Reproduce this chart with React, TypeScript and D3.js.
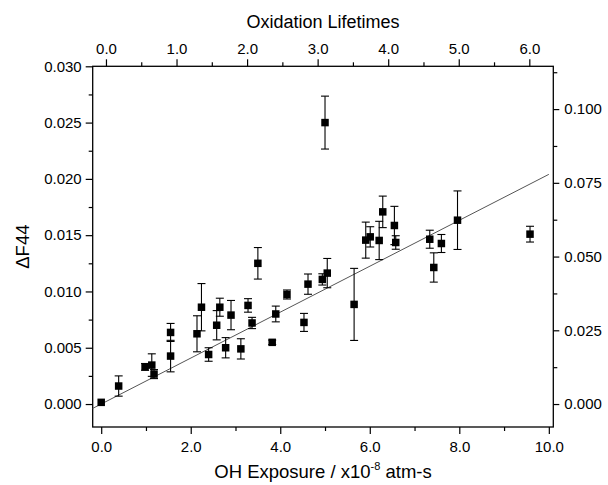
import { useEffect, useRef } from "react";
import * as d3 from "d3";

// OH exposure (x10^-8 atm-s), dF44 and its error
const exposure = [
  0.0, 0.39, 0.98, 1.13, 1.18, 1.55, 1.55, 2.14, 2.24, 2.4, 2.58, 2.65, 2.78, 2.9, 3.12, 3.28, 3.37, 3.5, 3.82,
  3.9, 4.15, 4.53, 4.62, 4.94, 5.0, 5.05, 5.65, 5.91, 6.01, 6.21, 6.29, 6.55, 6.58, 7.34, 7.43, 7.6, 7.96, 9.58,
];
const deltaF44 = [
  0.00015, 0.0016, 0.0033, 0.00346, 0.00266, 0.00426, 0.00636, 0.00624, 0.0086, 0.0044, 0.007, 0.0086, 0.005,
  0.0079, 0.0049, 0.00876, 0.0072, 0.0125, 0.00548, 0.008, 0.00973, 0.00725, 0.01065, 0.01107, 0.025, 0.01163,
  0.00885, 0.01456, 0.01485, 0.01453, 0.01707, 0.01586, 0.01435, 0.01464, 0.01213, 0.01426, 0.01633, 0.01509,
];
const deltaErr = [
  0, 0.0009, 0.0003, 0.001, 0.0004, 0.0014, 0.0008, 0.0016, 0.0021, 0.0006, 0.0013, 0.0008, 0.0009, 0.0013, 0.0009,
  0.0006, 0.0005, 0.0014, 0.0002, 0.0007, 0.0004, 0.0008, 0.0009, 0.0005, 0.00235, 0.0013, 0.0032, 0.0016, 0.0009,
  0.0017, 0.0014, 0.0017, 0.0006, 0.0008, 0.0013, 0.0008, 0.0026, 0.0007,
];

// linear fit drawn through the points
const fitSlope = 0.00204;
const fitIntercept = 0.0;
const fitRange = [-0.19, 10.0];

const bottomTicks = [0, 2, 4, 6, 8, 10];
const bottomMinor = [1, 3, 5, 7, 9];
const topTicks = [0, 1, 2, 3, 4, 5, 6];
const topMinor = [0.5, 1.5, 2.5, 3.5, 4.5, 5.5];
const leftTicks = [0, 0.005, 0.01, 0.015, 0.02, 0.025, 0.03];
const leftMinor = [0.0025, 0.0075, 0.0125, 0.0175, 0.0225, 0.0275];
const rightTicks = [0, 0.025, 0.05, 0.075, 0.1];
const rightMinor = [0.0125, 0.0375, 0.0625, 0.0875, 0.1125];

const W = 608;
const H = 485;
const font = "'Liberation Sans', Arial, sans-serif";

export default function App() {
  const svgRef = useRef<SVGSVGElement | null>(null);

  useEffect(() => {
    if (!svgRef.current) return;
    const svg = d3.select(svgRef.current);
    svg.selectAll("*").remove();

    const left = 92.7;
    const right = 553.3;
    const top = 66.3;
    const bottom = 427;

    const x = d3.scaleLinear().domain([-0.19, 10.1]).range([left, right]);
    const xTop = d3.scaleLinear().domain([-0.188, 6.34]).range([left, right]);
    const y = d3.scaleLinear().domain([-0.00204, 0.03]).range([bottom, top]);
    const yRight = d3.scaleLinear().domain([-0.00204 * 3.817, 0.03 * 3.817]).range([bottom, top]);

    const fmt = d3.format(".1f");
    const fmt3 = d3.format(".3f");

    const styleAxis = (g: d3.Selection<SVGGElement, unknown, null, undefined>) => {
      g.select(".domain").remove();
      g.selectAll("line").attr("stroke", "#000").attr("stroke-width", 1.2);
      g.selectAll("text").attr("font-family", font).attr("font-size", 15).attr("fill", "#000");
    };

    // bottom
    const gb = svg.append("g").attr("transform", `translate(0,${bottom})`);
    gb.call(d3.axisBottom(x).tickValues(bottomTicks).tickFormat((d) => fmt(d as number)).tickSize(7).tickPadding(7));
    styleAxis(gb);
    svg.append("g").attr("transform", `translate(0,${bottom})`)
      .call(d3.axisBottom(x).tickValues(bottomMinor).tickFormat(() => "").tickSize(4))
      .call(styleAxis);

    // top
    const gt = svg.append("g").attr("transform", `translate(0,${top})`);
    gt.call(d3.axisTop(xTop).tickValues(topTicks).tickFormat((d) => fmt(d as number)).tickSize(7).tickPadding(5));
    styleAxis(gt);
    svg.append("g").attr("transform", `translate(0,${top})`)
      .call(d3.axisTop(xTop).tickValues(topMinor).tickFormat(() => "").tickSize(4))
      .call(styleAxis);

    // left
    const gl = svg.append("g").attr("transform", `translate(${left},0)`);
    gl.call(d3.axisLeft(y).tickValues(leftTicks).tickFormat((d) => fmt3(d as number)).tickSize(7).tickPadding(4));
    styleAxis(gl);
    svg.append("g").attr("transform", `translate(${left},0)`)
      .call(d3.axisLeft(y).tickValues(leftMinor).tickFormat(() => "").tickSize(4))
      .call(styleAxis);

    // right
    const gr = svg.append("g").attr("transform", `translate(${right},0)`);
    gr.call(d3.axisRight(yRight).tickValues(rightTicks).tickFormat((d) => fmt3(d as number)).tickSize(6).tickPadding(5));
    styleAxis(gr);
    svg.append("g").attr("transform", `translate(${right},0)`)
      .call(d3.axisRight(yRight).tickValues(rightMinor).tickFormat(() => "").tickSize(4))
      .call(styleAxis);

    // frame
    svg.append("rect")
      .attr("x", left).attr("y", top)
      .attr("width", right - left).attr("height", bottom - top)
      .attr("fill", "none").attr("stroke", "#000").attr("stroke-width", 1.3);

    // fit line
    svg.append("line")
      .attr("x1", x(fitRange[0])).attr("y1", y(fitIntercept + fitSlope * fitRange[0]))
      .attr("x2", x(fitRange[1])).attr("y2", y(fitIntercept + fitSlope * fitRange[1]))
      .attr("stroke", "#555").attr("stroke-width", 1);

    const data = exposure.map((e, i) => ({ e, v: deltaF44[i], err: deltaErr[i] }));

    // error bars
    const eb = svg.append("g").attr("stroke", "#000").attr("stroke-width", 1.1);
    data.filter((d) => d.err > 0).forEach((d) => {
      const cx = x(d.e);
      const y1 = y(d.v + d.err);
      const y2 = y(d.v - d.err);
      eb.append("line").attr("x1", cx).attr("x2", cx).attr("y1", y1).attr("y2", y2);
      eb.append("line").attr("x1", cx - 4).attr("x2", cx + 4).attr("y1", y1).attr("y2", y1);
      eb.append("line").attr("x1", cx - 4).attr("x2", cx + 4).attr("y1", y2).attr("y2", y2);
    });

    // markers
    const s = 7.5;
    svg.append("g").selectAll("rect")
      .data(data)
      .join("rect")
      .attr("x", (d) => x(d.e) - s / 2)
      .attr("y", (d) => y(d.v) - s / 2)
      .attr("width", s)
      .attr("height", s)
      .attr("fill", "#000");

    // titles
    svg.append("text")
      .attr("x", (left + right) / 2).attr("y", 28)
      .attr("text-anchor", "middle").attr("font-family", font).attr("font-size", 18)
      .text("Oxidation Lifetimes");

    const bt = svg.append("text")
      .attr("x", (left + right) / 2).attr("y", 478)
      .attr("text-anchor", "middle").attr("font-family", font).attr("font-size", 18.5);
    bt.append("tspan").text("OH Exposure / x10");
    bt.append("tspan").attr("font-size", 11).attr("dy", -8).text("-8");
    bt.append("tspan").attr("dy", 8).text(" atm-s");

    svg.append("text")
      .attr("transform", `translate(29,${(top + bottom) / 2}) rotate(-90)`)
      .attr("text-anchor", "middle").attr("font-family", font).attr("font-size", 18.5)
      .text("\u0394F44");
  }, []);

  return (
    <svg
      ref={svgRef}
      width={W}
      height={H}
      style={{ position: "absolute", left: 0, top: 0, background: "#fff", display: "block" }}
    />
  );
}
